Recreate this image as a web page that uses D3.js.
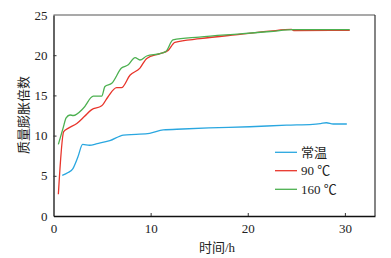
<!DOCTYPE html>
<html><head><meta charset="utf-8">
<script src="https://cdn.jsdelivr.net/npm/d3@7"></script>
<style>body{margin:0;background:#fff}svg{display:block}</style>
</head><body><svg id="c" width="391" height="258"></svg>
<script>
const xTicks=[0,10,20,30];
const yTicks=[0,5,10,15,20,25];
const seriesNames=["常温","90 ℃","160 ℃"];
const seriesColors=["#2aa7e0","#e8352b","#4cb050"];
const roomT=[0.9,1.5,2.0,2.5,3.0,3.7,4.5,5.8,7.2,8.5,9.9,11.3,13.3,16,20.2,24,26.7,27.5,28.1,28.8,30.2];
const roomV=[5.05,5.4,5.9,7.3,8.9,8.8,9.0,9.37,10.07,10.15,10.28,10.7,10.82,10.95,11.1,11.3,11.4,11.5,11.6,11.44,11.44];
const t90T=[0.5,1.05,1.5,2.4,3.2,3.9,4.96,5.6,6.5,7.0,7.87,8.9,9.6,10.96,11.8,12.5,15.1,19.2,22.3,24.5,24.8,30.5];
const t90V=[2.7,10.5,10.9,11.5,12.4,13.2,13.7,14.8,15.96,15.96,17.5,18.4,19.6,20.2,20.6,21.6,22.05,22.6,23.0,23.2,23.05,23.1];
const t160T=[0.5,1.0,1.3,1.7,2.04,3.07,4.1,4.96,5.3,6.0,7.0,7.7,8.4,8.9,9.6,10.96,11.6,12.3,15.0,19.2,22.3,24.8,30.5];
const t160V=[8.9,11.0,12.2,12.56,12.5,13.4,14.9,14.9,16.1,16.5,18.4,18.8,19.7,19.4,19.9,20.2,20.5,21.9,22.25,22.65,22.95,23.17,23.17];
const series=[[roomT,roomV],[t90T,t90V],[t160T,t160V]];
const FONT='"Liberation Serif","Noto Sans CJK SC",serif';

const svg=d3.select("#c");
const L=53.5,R=375,T=15,B=216;
const x=d3.scaleLinear().domain([0,33.1]).range([L,R]);
const y=d3.scaleLinear().domain([0,25]).range([B,T]);

svg.append("line").attr("x1",L).attr("x2",R).attr("y1",T).attr("y2",T).attr("stroke","#555").attr("stroke-width",1.2);
svg.append("line").attr("x1",R).attr("x2",R).attr("y1",T).attr("y2",B).attr("stroke","#333").attr("stroke-width",1.2);

const yAxis=svg.append("g").attr("transform",`translate(${L},0)`)
 .call(d3.axisLeft(y).tickValues(yTicks).tickSizeInner(-3).tickSizeOuter(0).tickPadding(6));
const xAxis=svg.append("g").attr("transform",`translate(0,${B})`)
 .call(d3.axisBottom(x).tickValues(xTicks).tickSizeInner(-3).tickSizeOuter(0).tickPadding(8));
[yAxis,xAxis].forEach(g=>{
 g.attr("font-family",FONT).attr("font-size",13);
 g.selectAll("path").attr("stroke","#111").attr("stroke-width",1.3);
 g.selectAll("line").attr("stroke","#333");
 g.selectAll("text").attr("fill","#222");
});
xAxis.selectAll(".tick").filter(d=>d===0).select("line").remove();
yAxis.selectAll(".tick").filter(d=>d===0||d===25).select("line").remove();

const line=d3.line().x(d=>x(d[0])).y(d=>y(d[1])).curve(d3.curveMonotoneX);
series.forEach((s,i)=>{
 const pts=s[0].map((t,j)=>[t,s[1][j]]);
 svg.append("path").datum(pts).attr("d",line).attr("fill","none")
  .attr("stroke",seriesColors[i]).attr("stroke-width",1.3);
});

const leg=svg.append("g").attr("font-family",FONT).attr("font-size",13).attr("fill","#222");
const ly=[152.3,170.7,189.3];
seriesNames.forEach((n,i)=>{
 leg.append("line").attr("x1",275).attr("x2",297).attr("y1",ly[i]).attr("y2",ly[i])
  .attr("stroke",seriesColors[i]).attr("stroke-width",1.3);
 leg.append("text").attr("x",301).attr("y",ly[i]+4.5).text(n);
});

svg.append("text").attr("x",217).attr("y",252).attr("text-anchor","middle").attr("font-family",FONT).attr("font-size",13).attr("fill","#222").text("时间/h");
svg.append("text").attr("transform","translate(28,115) rotate(-90)").attr("text-anchor","middle").attr("font-family",FONT).attr("font-size",13).attr("fill","#222").text("质量膨胀倍数");
</script></body></html>
